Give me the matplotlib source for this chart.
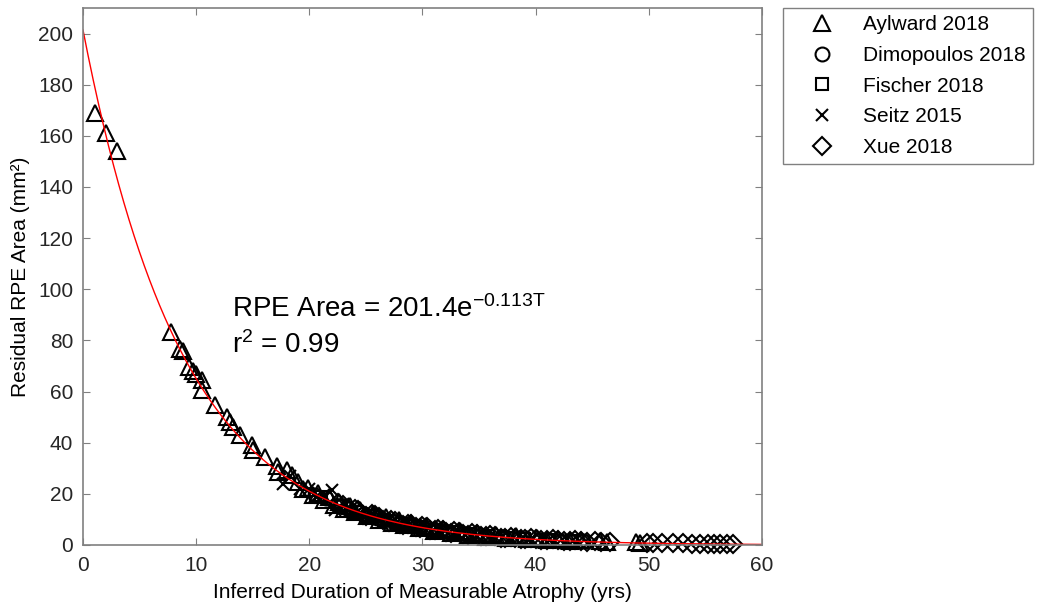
import numpy as np
import matplotlib
matplotlib.use("Agg")
import matplotlib.pyplot as plt

plt.rcParams['font.family'] = ['Liberation Sans', 'DejaVu Sans']
plt.rcParams['mathtext.default'] = 'regular'

# fit parameters
fit_a = 201.4
fit_k = 0.113

# Aylward 2018 (triangles)
aylward_x = [1.1, 2.0, 3.0, 7.75, 8.6, 8.85, 9.4, 9.75, 10.0, 10.5, 10.5, 11.65, 12.7, 13.0,
             13.25, 13.9, 14.9, 15.0, 16.1, 17.1, 17.2, 18.0, 18.5, 19.0, 19.4, 19.9, 20.3,
             20.8, 21.3, 21.7, 22.2, 22.6, 23.1, 23.6, 24.0, 24.5, 25.1, 25.6, 26.2, 26.8,
             27.3, 27.9, 28.4, 29.0, 29.7, 30.3, 31.0, 31.8, 32.5, 33.3, 34.0, 34.8, 35.6,
             36.5, 37.4, 38.3, 39.2, 40.1, 41.0, 42.0, 43.0, 44.0, 45.7, 46.3, 48.9, 49.2]
aylward_y = [169, 161, 154, 83.3, 76.5, 76, 69.6, 68, 66.8, 64.5, 60.5, 54.7, 50.1, 48.2,
             46.2, 43, 39, 37, 34.5, 31, 28.6, 29.3, 27.3, 24.5, 22.0, 22.3, 19.6,
             20.4, 17.5, 18.6, 15.8, 16.9, 14.2, 15.3, 12.8, 13.7, 11.2, 12.3, 9.9, 10.8,
             8.7, 9.6, 7.7, 8.5, 6.6, 7.4, 5.6, 6.4, 4.7, 5.5, 4.0, 4.7, 3.3,
             4.0, 2.7, 3.4, 2.2, 2.9, 1.8, 2.4, 1.4, 2.0, 1.6, 1.3, 1.0, 0.9]

# Dimopoulos 2018 (circles)
dimo_x = [20.5, 21.5, 23.3, 24.8, 26.0, 27.6, 29.2, 30.8, 32.3, 33.8, 35.4, 37.0, 38.5,
          40.3, 42.2, 44.2]
dimo_y = [19.5, 18.3, 14.6, 12.3, 10.5, 8.9, 7.3, 6.0, 5.1, 4.4, 3.6, 3.0, 2.6,
          2.1, 1.7, 1.4]

# Fischer 2018 (squares)
fischer_x = [21.0, 22.8, 24.2, 25.3, 26.6, 28.2, 29.8, 31.2, 32.7, 34.2, 35.8, 37.5, 39.0,
             41.2, 43.2]
fischer_y = [18.9, 15.4, 13.1, 11.5, 9.9, 8.4, 6.9, 5.9, 5.0, 4.2, 3.5, 2.9, 2.5,
             1.9, 1.6]

# Seitz 2015 (crosses)
seitz_x = [17.7, 18.3, 19.2, 20.0, 20.6, 21.3, 22.0, 22.3, 23.0, 23.8, 24.6, 25.4, 26.1,
           27.0, 27.8, 28.6, 29.5, 30.5, 31.5, 33.0]
seitz_y = [24.0, 26.8, 22.0, 21.8, 18.6, 19.3, 21.5, 13.7, 15.9, 13.0, 12.0, 11.8, 10.0,
           9.9, 8.0, 8.6, 6.9, 6.6, 5.5, 4.9]

# Xue 2018 (diamonds)
xue_x = [22.5, 23.5, 24.3, 25.0, 25.8, 26.5, 27.2, 28.0, 28.7, 29.4, 30.0, 30.7, 31.4,
         32.1, 32.8, 33.6, 34.4, 35.2, 36.0, 36.9, 37.8, 38.7, 39.6, 40.5, 41.5, 42.5,
         43.5, 44.5, 45.2, 49.8, 50.4, 51.2, 52.1, 53.0, 53.8, 54.5, 55.2, 55.8, 56.3,
         56.9, 57.4,
         23.0, 24.0, 24.7, 25.5, 26.2, 27.0, 27.6, 28.3, 29.0, 29.8, 30.4, 31.1, 31.8,
         32.5, 33.2, 34.0, 34.8, 35.6, 36.4, 37.3, 38.2, 39.1, 40.0, 41.0, 42.0, 43.0,
         44.0, 45.8, 46.6]
xue_y = [16.5, 13.6, 13.8, 11.4, 11.6, 9.6, 9.9, 8.1, 8.4, 6.9, 7.3, 5.9, 6.3,
         5.0, 5.4, 4.2, 4.6, 3.5, 3.9, 2.9, 3.2, 2.3, 2.7, 1.9, 2.2, 1.5,
         1.8, 1.2, 1.5, 0.9, 0.7, 0.8, 0.6, 0.6, 0.5, 0.5, 0.5, 0.4, 0.5,
         0.4, 0.4,
         15.6, 14.2, 11.8, 12.0, 10.9, 9.1, 9.4, 7.9, 8.1, 6.6, 6.9, 5.7, 5.9,
         4.8, 5.1, 4.1, 4.3, 3.4, 3.6, 2.8, 2.9, 2.3, 2.5, 1.8, 2.0, 1.4,
         1.6, 1.1, 1.2]

fig = plt.figure(figsize=(10.5, 6.15), dpi=100)
ax = fig.add_axes([83 / 1050, 70 / 615, 679 / 1050, 537 / 615])

mk = dict(linestyle='none', markerfacecolor='none', markeredgecolor='black',
          markeredgewidth=1.5, clip_on=False)
ax.plot(aylward_x, aylward_y, marker='^', markersize=11, label='Aylward 2018', **mk)
ax.plot(dimo_x, dimo_y, marker='o', markersize=10, label='Dimopoulos 2018', **mk)
ax.plot(fischer_x, fischer_y, marker='s', markersize=8, label='Fischer 2018', **mk)
ax.plot(seitz_x, seitz_y, marker='x', markersize=8, label='Seitz 2015', **mk)
ax.plot(xue_x, xue_y, marker='D', markersize=9, label='Xue 2018', **mk)

t = np.linspace(0, 60, 400)
ax.plot(t, fit_a * np.exp(-fit_k * t), color='red', linewidth=1)

ax.set_xlim(0, 60)
ax.set_ylim(0, 210)
ax.set_xticks(range(0, 61, 10))
ax.set_yticks(range(0, 201, 20))
ax.tick_params(direction='in', length=5, labelsize=15, colors='#262626',
               top=True, right=True, color='#808080')
ax.tick_params(axis='x', pad=8)
ax.tick_params(axis='y', pad=7)
for s in ax.spines.values():
    s.set_color('#808080')
    s.set_linewidth(1.2)

ax.set_xlabel('Inferred Duration of Measurable Atrophy (yrs)', fontsize=15, labelpad=6)
ax.set_ylabel('Residual RPE Area (mm\u00b2)', fontsize=15, labelpad=6)

ax.text(13.2, 89, 'RPE Area = 201.4e$^{-0.113T}$', fontsize=20)
ax.text(13.2, 75, 'r$^{2}$ = 0.99', fontsize=20)

leg = fig.legend(loc='upper left', bbox_to_anchor=(783 / 1050, 1 - 8 / 615),
                 borderaxespad=0, fontsize=15, fancybox=False, edgecolor='#808080',
                 framealpha=1, borderpad=0.35, labelspacing=0.56, handletextpad=0.5,
                 handlelength=3.0)
leg.get_frame().set_linewidth(1.0)

fig.savefig('out.png', dpi=100)
